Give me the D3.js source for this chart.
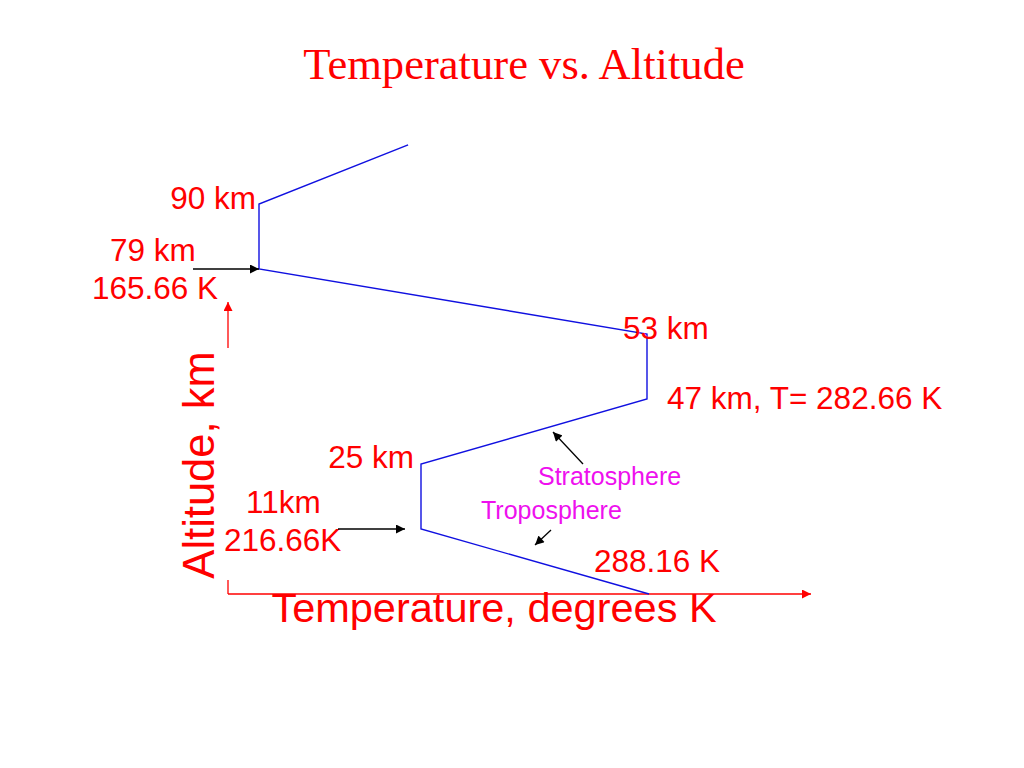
<!DOCTYPE html>
<html>
<head>
<meta charset="utf-8">
<script src="https://cdn.jsdelivr.net/npm/d3@7"></script>
<style>
  html, body { margin: 0; padding: 0; background: #fff; }
  svg { display: block; }
</style>
</head>
<body>
<svg id="chart" width="1024" height="768"></svg>
<script>
// ---- data ----
const altitudes    = [0, 11, 25, 47, 53, 79, 90, 100];          // km
const temperatures = [288.16, 216.66, 216.66, 282.66, 282.66, 165.66, 165.66, 212.6]; // K
const altitudeStops = [0, 11, 25, 47, 53, 79, 90];
const temperatureStops = [165.66, 216.66, 282.66, 288.16];
const pointLabels = [
  { i: 0, lines: ["288.16 K"] },
  { i: 1, lines: ["11km", "216.66K"] },
  { i: 2, lines: ["25 km"] },
  { i: 3, lines: ["47 km, T= 282.66 K"] },
  { i: 4, lines: ["53 km"] },
  { i: 5, lines: ["79 km", "165.66 K"] },
  { i: 6, lines: ["90 km"] }
];
const layerNames = ["Stratosphere", "Troposphere"];
const titleText = "Temperature vs. Altitude";
const xTitle = "Temperature, degrees K";
const yTitle = "Altitude, km";

// ---- scales (schematic, piecewise) ----
const x = d3.scaleLinear().domain(temperatureStops).range([259, 421, 647, 649]);
const y = d3.scaleLinear().domain(altitudeStops)
  .range(altitudeStops.map((d, i) => 594 - i * 65));

const svg = d3.select("#chart");
const RED = "#ff0000", BLUE = "#1010e0", MAG = "#ee10ee";

const defs = svg.append("defs");
function marker(id, color, w, h) {
  defs.append("marker").attr("id", id)
    .attr("viewBox", "0 0 10 10").attr("refX", 10).attr("refY", 5)
    .attr("markerWidth", w).attr("markerHeight", h)
    .attr("markerUnits", "userSpaceOnUse").attr("orient", "auto")
    .append("path").attr("d", "M0,0 L10,5 L0,10 Z").attr("fill", color);
}
marker("arrRed", RED, 11, 9);
marker("arrBlack", "#000", 11, 9);
marker("arrBlackS", "#000", 10, 9);

// title
svg.append("text").attr("x", 524).attr("y", 79).attr("text-anchor", "middle")
  .attr("font-family", "'Liberation Serif', 'Times New Roman', serif")
  .attr("font-size", 44.6).attr("fill", RED).text(titleText);

// axes (schematic arrows)
const ax = svg.append("g").attr("stroke", RED).attr("stroke-width", 1.3).attr("fill", "none");
ax.append("line").attr("x1", 228).attr("y1", y(0)).attr("x2", 811).attr("y2", y(0))
  .attr("marker-end", "url(#arrRed)");
ax.append("line").attr("x1", 228).attr("y1", y(0)).attr("x2", 228).attr("y2", 580);
ax.append("line").attr("x1", 228).attr("y1", 348).attr("x2", 228).attr("y2", 302)
  .attr("marker-end", "url(#arrRed)");

// profile line
const pts = altitudes.map((a, i) => [temperatures[i], a]);
svg.append("path").datum(pts)
  .attr("d", d3.line().x(d => x(d[0])).y(d => y(d[1])))
  .attr("fill", "none").attr("stroke", BLUE).attr("stroke-width", 1.4);

// axis titles
svg.append("text").attr("x", 494).attr("y", 622).attr("text-anchor", "middle")
  .attr("font-family", "'Liberation Sans', Arial, sans-serif")
  .attr("font-size", 41.5).attr("fill", RED).text(xTitle);
svg.append("text").attr("transform", "translate(214,465) rotate(-90)")
  .attr("text-anchor", "middle")
  .attr("font-family", "'Liberation Sans', Arial, sans-serif")
  .attr("font-size", 43.5).attr("fill", RED).text(yTitle);

// point labels
const labelFont = "'Liberation Sans', Arial, sans-serif";
const offsets = {
  0: { dx: -55, dy: -22, anchor: "start" },
  2: { dx: -7, dy: 4, anchor: "end" },
  3: { dx: 20, dy: 10, anchor: "start" },
  4: { dx: -24, dy: 5, anchor: "start" },
  6: { dx: -3, dy: 5, anchor: "end" }
};
const lblG = svg.append("g").attr("font-family", labelFont).attr("font-size", 31.5).attr("fill", RED);
pointLabels.forEach(l => {
  const px = x(temperatures[l.i]), py = y(altitudes[l.i]);
  const o = offsets[l.i];
  if (l.lines.length === 1) {
    lblG.append("text").attr("x", px + o.dx).attr("y", py + o.dy)
      .attr("text-anchor", o.anchor).text(l.lines[0]);
  }
});
// two-line labels (left of vertex, with black arrows)
{
  const px = x(temperatures[1]), py = y(altitudes[1]);
  lblG.append("text").attr("x", px - 175).attr("y", py - 16).text(pointLabels[1].lines[0]);
  lblG.append("text").attr("x", px - 197).attr("y", py + 22).text(pointLabels[1].lines[1]);
  svg.append("line").attr("x1", px - 83).attr("y1", py).attr("x2", px - 16).attr("y2", py)
    .attr("stroke", "#000").attr("stroke-width", 1.3).attr("marker-end", "url(#arrBlack)");
}
{
  const px = x(temperatures[5]), py = y(altitudes[5]);
  lblG.append("text").attr("x", px - 149).attr("y", py - 8).text(pointLabels[5].lines[0]);
  lblG.append("text").attr("x", px - 167).attr("y", py + 30).text(pointLabels[5].lines[1]);
  svg.append("line").attr("x1", px - 66).attr("y1", py).attr("x2", px).attr("y2", py)
    .attr("stroke", "#000").attr("stroke-width", 1.3).attr("marker-end", "url(#arrBlack)");
}

// layer labels + arrows
const layG = svg.append("g").attr("font-family", labelFont).attr("font-size", 25).attr("fill", MAG);
layG.append("text").attr("x", 538).attr("y", 485).text(layerNames[0]);
layG.append("text").attr("x", 481).attr("y", 519).text(layerNames[1]);
svg.append("line").attr("x1", 583).attr("y1", 464).attr("x2", 553).attr("y2", 432)
  .attr("stroke", "#000").attr("stroke-width", 1.3).attr("marker-end", "url(#arrBlackS)");
svg.append("line").attr("x1", 551).attr("y1", 530).attr("x2", 535).attr("y2", 545)
  .attr("stroke", "#000").attr("stroke-width", 1.3).attr("marker-end", "url(#arrBlackS)");
</script>
</body>
</html>
